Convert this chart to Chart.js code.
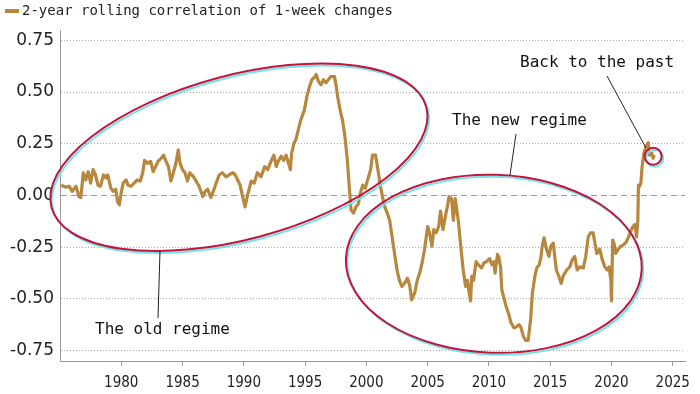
<!DOCTYPE html>
<html>
<head>
<meta charset="utf-8">
<script src="https://cdn.jsdelivr.net/npm/chart.js@4"></script>
<style>
  body { margin: 0; background: #fff; }
  #wrap { width: 700px; height: 394px; }
</style>
</head>
<body>
<div id="wrap"><canvas id="corr-chart" width="700" height="394"></canvas></div>
<script>
const seriesLabel = "2-year rolling correlation of 1-week changes";

// decimal year of each reading
const years = [
    1975.1, 1975.5, 1975.75, 1976.0, 1976.3, 1976.55, 1976.7, 1976.9, 1977.1, 1977.3,
    1977.5, 1977.7, 1977.9, 1978.1, 1978.3, 1978.55, 1978.75, 1978.9, 1979.15, 1979.35,
    1979.55, 1979.7, 1979.85, 1979.95, 1980.15, 1980.4, 1980.55, 1980.8, 1981.05, 1981.3,
    1981.55, 1981.75, 1981.9, 1982.15, 1982.4, 1982.6, 1982.8, 1983.0, 1983.25, 1983.45,
    1983.65, 1983.85, 1984.05, 1984.25, 1984.45, 1984.65, 1984.8, 1985.0, 1985.2, 1985.4,
    1985.6, 1985.9, 1986.1, 1986.35, 1986.65, 1986.85, 1987.05, 1987.3, 1987.6, 1987.8,
    1988.0, 1988.25, 1988.55, 1988.8, 1989.1, 1989.3, 1989.5, 1989.7, 1989.9, 1990.1,
    1990.3, 1990.6, 1990.85, 1991.1, 1991.4, 1991.7, 1991.95, 1992.25, 1992.45, 1992.65,
    1992.8, 1993.05, 1993.25, 1993.45, 1993.65, 1993.8, 1993.9, 1994.1, 1994.25, 1994.45,
    1994.65, 1994.95, 1995.15, 1995.35, 1995.55, 1995.75, 1995.9, 1996.1, 1996.3, 1996.5,
    1996.7, 1996.9, 1997.1, 1997.4, 1997.55, 1997.65, 1997.9, 1998.05, 1998.25, 1998.45,
    1998.6, 1998.75, 1998.95, 1999.15, 1999.35, 1999.5, 1999.7, 1999.9, 2000.1, 2000.35,
    2000.5, 2000.75, 2000.9, 2001.15, 2001.35, 2001.5, 2001.7, 2001.9, 2002.1, 2002.3,
    2002.5, 2002.7, 2002.9, 2003.1, 2003.35, 2003.55, 2003.7, 2003.95, 2004.15, 2004.35,
    2004.55, 2004.75, 2005.0, 2005.15, 2005.35, 2005.5, 2005.7, 2005.9, 2006.05, 2006.25,
    2006.45, 2006.6, 2006.75, 2006.95, 2007.1, 2007.25, 2007.5, 2007.7, 2007.9, 2008.1,
    2008.25, 2008.35, 2008.5, 2008.6, 2008.75, 2008.95, 2009.15, 2009.4, 2009.6, 2009.8,
    2010.05, 2010.25, 2010.4, 2010.5, 2010.7, 2010.8, 2010.95, 2011.05, 2011.2, 2011.4,
    2011.6, 2011.8, 2012.05, 2012.25, 2012.45, 2012.6, 2012.8, 2013.0, 2013.2, 2013.4,
    2013.55, 2013.75, 2013.9, 2014.1, 2014.25, 2014.35, 2014.5, 2014.7, 2014.9, 2015.05,
    2015.25, 2015.4, 2015.5, 2015.7, 2015.9, 2016.05, 2016.35, 2016.6, 2016.8, 2017.0,
    2017.2, 2017.4, 2017.7, 2017.9, 2018.1, 2018.3, 2018.5, 2018.65, 2018.8, 2019.05,
    2019.25, 2019.45, 2019.65, 2019.8, 2019.95, 2020.0, 2020.1, 2020.2, 2020.35, 2020.55,
    2020.75, 2020.95, 2021.2, 2021.4, 2021.55, 2021.75, 2021.9, 2022.05, 2022.15, 2022.2,
    2022.3, 2022.4, 2022.5, 2022.65, 2022.8, 2023.0, 2023.1, 2023.3, 2023.4, 2023.5
];

const correlation = [
    0.05, 0.04, 0.045, 0.02, 0.045, -0.005, -0.01, 0.11, 0.075, 0.115,
    0.06, 0.125, 0.10, 0.05, 0.045, 0.10, 0.085, 0.10, 0.035, 0.02,
    0.03, -0.03, -0.045, 0.0, 0.06, 0.075, 0.05, 0.045, 0.06, 0.075,
    0.07, 0.11, 0.17, 0.155, 0.165, 0.115, 0.14, 0.165, 0.18, 0.195,
    0.165, 0.14, 0.07, 0.11, 0.155, 0.22, 0.155, 0.125, 0.11, 0.07,
    0.11, 0.09, 0.07, 0.045, -0.005, 0.02, 0.03, -0.01, 0.035, 0.07,
    0.10, 0.11, 0.09, 0.10, 0.11, 0.10, 0.075, 0.05, -0.005, -0.055,
    0.0, 0.07, 0.06, 0.11, 0.09, 0.14, 0.125, 0.17, 0.195, 0.14,
    0.165, 0.19, 0.17, 0.195, 0.155, 0.125, 0.205, 0.255, 0.27, 0.32,
    0.365, 0.415, 0.48, 0.525, 0.56, 0.57, 0.585, 0.55, 0.535, 0.56,
    0.545, 0.56, 0.575, 0.575, 0.525, 0.48, 0.40, 0.365, 0.285, 0.17,
    0.045, -0.07, -0.085, -0.055, -0.04, 0.01, 0.05, 0.035, 0.075, 0.125,
    0.195, 0.195, 0.14, 0.045, -0.015, -0.055, -0.085, -0.12, -0.20, -0.28,
    -0.36, -0.41, -0.44, -0.425, -0.40, -0.44, -0.505, -0.47, -0.41, -0.375,
    -0.325, -0.26, -0.15, -0.18, -0.245, -0.165, -0.18, -0.15, -0.075, -0.165,
    -0.10, -0.055, -0.005, -0.015, -0.12, -0.015, -0.12, -0.245, -0.36, -0.44,
    -0.41, -0.455, -0.51, -0.39, -0.41, -0.32, -0.335, -0.35, -0.325, -0.32,
    -0.305, -0.335, -0.32, -0.375, -0.285, -0.295, -0.345, -0.455, -0.49, -0.535,
    -0.57, -0.615, -0.64, -0.635, -0.625, -0.635, -0.68, -0.70, -0.70, -0.60,
    -0.47, -0.39, -0.35, -0.335, -0.295, -0.245, -0.205, -0.26, -0.295, -0.245,
    -0.23, -0.31, -0.36, -0.39, -0.425, -0.39, -0.36, -0.345, -0.31, -0.295,
    -0.36, -0.345, -0.35, -0.295, -0.20, -0.18, -0.18, -0.23, -0.28, -0.26,
    -0.31, -0.345, -0.36, -0.345, -0.41, -0.51, -0.215, -0.23, -0.28, -0.26,
    -0.245, -0.24, -0.225, -0.20, -0.175, -0.15, -0.14, -0.20, -0.12, 0.05,
    0.045, 0.06, 0.14, 0.205, 0.235, 0.255, 0.195, 0.205, 0.18, 0.195
];

const xTicks = [1980, 1985, 1990, 1995, 2000, 2005, 2010, 2015, 2020, 2025];
const yTicks = [-0.75, -0.5, -0.25, 0, 0.25, 0.5, 0.75];

const lineColor = "#b8873e";
const ringColor = "#c3143c";
const monoFont = "'DejaVu Sans Mono', 'Liberation Mono', monospace";

// legend + hand-drawn style annotations
const annotate = {
    id: "annotate",
    afterDraw(chart) {
        const ctx = chart.ctx;
        const sx = chart.scales.x;
        const sy = chart.scales.y;
        ctx.save();

        // legend
        ctx.strokeStyle = lineColor;
        ctx.lineWidth = 4;
        ctx.beginPath();
        ctx.moveTo(5, 11);
        ctx.lineTo(19, 11);
        ctx.stroke();
        ctx.fillStyle = "#222";
        ctx.font = "14px " + monoFont;
        ctx.textBaseline = "middle";
        ctx.fillText(seriesLabel, 22, 11);

        function ring(cx, cy, rx, ry, rot, w) {
            ctx.lineWidth = w;
            ctx.strokeStyle = "#6fe3e8";
            ctx.beginPath();
            ctx.ellipse(cx + 1.5, cy + 2, rx, ry, rot, 0, Math.PI * 2);
            ctx.stroke();
            ctx.strokeStyle = ringColor;
            ctx.beginPath();
            ctx.ellipse(cx, cy, rx, ry, rot, 0, Math.PI * 2);
            ctx.stroke();
        }

        ring(sx.getPixelForValue(1989.6), sy.getPixelForValue(0.185), 194, 82, -15 * Math.PI / 180, 2);
        ring(sx.getPixelForValue(2010.4), sy.getPixelForValue(-0.33), 148, 89, 2 * Math.PI / 180, 2);
        ring(sx.getPixelForValue(2023.4), sy.getPixelForValue(0.19), 8.5, 8.5, 0, 2);

        // pointer lines
        ctx.strokeStyle = "#222";
        ctx.lineWidth = 1;
        ctx.beginPath();
        ctx.moveTo(160, 251);
        ctx.lineTo(158, 318);
        ctx.moveTo(516, 134);
        ctx.lineTo(510, 175);
        ctx.moveTo(607, 76);
        ctx.lineTo(646, 148);
        ctx.stroke();

        ctx.fillStyle = "#111";
        ctx.font = "16px " + monoFont;
        ctx.textBaseline = "middle";
        ctx.fillText("The old regime", 95, 330);
        ctx.fillText("The new regime", 452, 121);
        ctx.fillText("Back to the past", 520, 63);
        ctx.restore();
    }
};

const canvas = document.querySelector("#corr-chart");
new Chart(canvas, {
    type: "line",
    data: {
        datasets: [{
            label: seriesLabel,
            data: years.map((yr, i) => ({ x: yr, y: correlation[i] })),
            borderColor: lineColor,
            borderWidth: 3.2,
            pointRadius: 0,
            tension: 0,
            borderJoinStyle: "round",
        }],
    },
    options: {
        responsive: false,
        animation: false,
        devicePixelRatio: 1,
        layout: { padding: { top: 30, right: 15, left: 0, bottom: 0 } },
        plugins: { legend: { display: false }, tooltip: { enabled: false } },
        scales: {
            x: {
                type: "linear",
                min: 1975,
                max: 2026,
                afterBuildTicks: s => { s.ticks = xTicks.map(v => ({ value: v })); },
                afterFit: s => { s.height = 33; },
                grid: { drawOnChartArea: false, drawTicks: true, tickLength: 5, tickColor: "#999" },
                border: { color: "#999", width: 1 },
                ticks: {
                    color: "#222",
                    padding: 8,
                    maxRotation: 0,
                    font: { family: "'DejaVu Sans Condensed', 'Liberation Sans Narrow', 'DejaVu Sans'", size: 15 },
                    callback: v => String(v),
                },
            },
            y: {
                min: -0.8,
                max: 0.8,
                afterBuildTicks: s => { s.ticks = yTicks.map(v => ({ value: v })); },
                afterFit: s => { s.width = 60; },
                grid: {
                    drawTicks: false,
                    color: c => (c.tick && c.tick.value === 0 ? "#999" : "#aaa"),
                    lineWidth: 1,
                },
                border: {
                    color: "#999",
                    width: 1,
                    dash: c => (c.tick ? (c.tick.value === 0 ? [6, 4] : [1, 2]) : []),
                },
                ticks: {
                    color: "#222",
                    padding: 6,
                    font: { family: "'DejaVu Sans'", size: 17 },
                    callback: v => v.toFixed(2),
                },
            },
        },
    },
    plugins: [annotate],
});
</script>
</body>
</html>
